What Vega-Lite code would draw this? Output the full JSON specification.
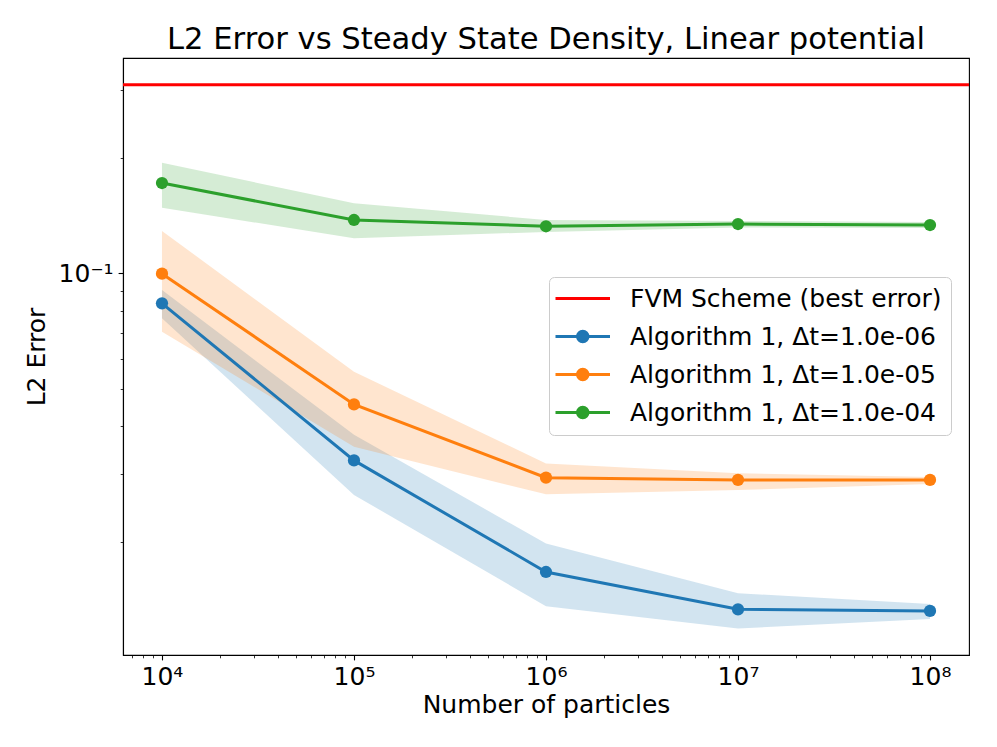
{
  "$schema": "https://vega.github.io/schema/vega-lite/v6.json",
  "width": 846,
  "height": 597,
  "autosize": {"type": "none"},
  "padding": {"left": 123, "top": 58, "right": 28, "bottom": 92},
  "background": "white",
  "config": {
    "font": "DejaVu Sans",
    "view": {"stroke": "black", "strokeWidth": 1.1},
    "axis": {
      "grid": false,
      "domainColor": "black",
      "domainWidth": 1.1,
      "tickColor": "black",
      "labelColor": "black",
      "titleColor": "black",
      "labelFont": "DejaVu Sans",
      "titleFont": "DejaVu Sans",
      "labelFontSize": 25,
      "titleFontSize": 25,
      "titleFontWeight": "normal",
      "labelOverlap": false,
      "labelFlush": false
    }
  },
  "title": {
    "text": "L2 Error vs Steady State Density, Linear potential",
    "font": "DejaVu Sans",
    "fontSize": 30.6,
    "fontWeight": "normal",
    "color": "black",
    "anchor": "middle",
    "frame": "group",
    "offset": 2
  },
  "datasets": {
    "alg": [
      {"series": "Algorithm 1, Δt=1.0e-06", "n": 10000, "err": 0.0836, "lo": 0.0764, "hi": 0.0906},
      {"series": "Algorithm 1, Δt=1.0e-06", "n": 100000, "err": 0.0326, "lo": 0.0265, "hi": 0.038},
      {"series": "Algorithm 1, Δt=1.0e-06", "n": 1000000, "err": 0.0167, "lo": 0.0136, "hi": 0.0198},
      {"series": "Algorithm 1, Δt=1.0e-06", "n": 10000000, "err": 0.01335, "lo": 0.0119, "hi": 0.0147},
      {"series": "Algorithm 1, Δt=1.0e-06", "n": 100000000, "err": 0.01322, "lo": 0.0126, "hi": 0.01378},
      {"series": "Algorithm 1, Δt=1.0e-05", "n": 10000, "err": 0.0999, "lo": 0.0705, "hi": 0.129},
      {"series": "Algorithm 1, Δt=1.0e-05", "n": 100000, "err": 0.0456, "lo": 0.0354, "hi": 0.0555},
      {"series": "Algorithm 1, Δt=1.0e-05", "n": 1000000, "err": 0.0294, "lo": 0.0266, "hi": 0.032},
      {"series": "Algorithm 1, Δt=1.0e-05", "n": 10000000, "err": 0.029, "lo": 0.0273, "hi": 0.0302},
      {"series": "Algorithm 1, Δt=1.0e-05", "n": 100000000, "err": 0.029, "lo": 0.0283, "hi": 0.0295},
      {"series": "Algorithm 1, Δt=1.0e-04", "n": 10000, "err": 0.172, "lo": 0.1484, "hi": 0.1943},
      {"series": "Algorithm 1, Δt=1.0e-04", "n": 100000, "err": 0.1378, "lo": 0.1235, "hi": 0.1523},
      {"series": "Algorithm 1, Δt=1.0e-04", "n": 1000000, "err": 0.1327, "lo": 0.1283, "hi": 0.1378},
      {"series": "Algorithm 1, Δt=1.0e-04", "n": 10000000, "err": 0.1345, "lo": 0.1318, "hi": 0.137},
      {"series": "Algorithm 1, Δt=1.0e-04", "n": 100000000, "err": 0.1337, "lo": 0.1314, "hi": 0.1362}
    ],
    "fvm": [
      {"series": "FVM Scheme (best error)", "err": 0.31}
    ]
  },
  "layer": [
    {
      "data": {"name": "alg"},
      "mark": {"type": "area", "opacity": 0.2},
      "encoding": {
        "x": {
          "field": "n", "type": "quantitative", "title": "Number of particles",
          "scale": {"type": "log", "domain": [6266, 159600000], "nice": false},
          "axis": {
            "values": [7000, 8000, 9000, 10000, 20000, 30000, 40000, 50000, 60000, 70000, 80000, 90000, 100000, 200000, 300000, 400000, 500000, 600000, 700000, 800000, 900000, 1000000, 2000000, 3000000, 4000000, 5000000, 6000000, 7000000, 8000000, 9000000, 10000000, 20000000, 30000000, 40000000, 50000000, 60000000, 70000000, 80000000, 90000000, 100000000],
            "labelExpr": "datum.value == 10000 ? '10⁴' : datum.value == 100000 ? '10⁵' : datum.value == 1000000 ? '10⁶' : datum.value == 10000000 ? '10⁷' : datum.value == 100000000 ? '10⁸' : ''",
            "tickSize": {"condition": {"test": "indexof([10000,100000,1000000,10000000,100000000], datum.value) >= 0", "value": 4.9}, "value": 2.8},
            "tickWidth": {"condition": {"test": "indexof([10000,100000,1000000,10000000,100000000], datum.value) >= 0", "value": 1.1}, "value": 0.8},
            "labelPadding": 5,
            "titlePadding": 3
          }
        },
        "y": {
          "field": "lo", "type": "quantitative", "title": "L2 Error",
          "scale": {"type": "log", "domain": [0.01015, 0.364], "nice": false},
          "axis": {
            "values": [0.02, 0.03, 0.04, 0.05, 0.06, 0.07, 0.08, 0.09, 0.1, 0.2, 0.3],
            "labelExpr": "abs(datum.value - 0.1) < 1e-9 ? '10⁻¹' : ''",
            "tickSize": {"condition": {"test": "abs(datum.value - 0.1) < 1e-9", "value": 4.9}, "value": 2.8},
            "tickWidth": {"condition": {"test": "abs(datum.value - 0.1) < 1e-9", "value": 1.1}, "value": 0.8},
            "labelPadding": 5,
            "titlePadding": 9
          }
        },
        "y2": {"field": "hi"},
        "color": {
          "field": "series", "type": "nominal",
          "scale": {"domain": ["Algorithm 1, Δt=1.0e-06", "Algorithm 1, Δt=1.0e-05", "Algorithm 1, Δt=1.0e-04"], "range": ["#1f77b4", "#ff7f0e", "#2ca02c"]},
          "legend": null
        }
      }
    },
    {
      "data": {"name": "fvm"},
      "mark": {"type": "rule", "strokeWidth": 3},
      "encoding": {
        "y": {"field": "err", "type": "quantitative", "title": "L2 Error"},
        "stroke": {
          "field": "series", "type": "nominal",
          "scale": {"domain": ["FVM Scheme (best error)", "Algorithm 1, Δt=1.0e-06", "Algorithm 1, Δt=1.0e-05", "Algorithm 1, Δt=1.0e-04"], "range": ["#ff0000", "#1f77b4", "#ff7f0e", "#2ca02c"]},
          "legend": {
            "title": null,
            "orient": "none",
            "legendX": 426,
            "legendY": 219,
            "labelFont": "DejaVu Sans",
            "labelFontSize": 25,
            "labelColor": "black",
            "labelLimit": 600,
            "symbolSize": 100,
            "symbolStrokeWidth": 3,
            "labelOffset": 47,
            "rowPadding": 12,
            "padding": 9,
            "strokeColor": "#cccccc",
            "fillColor": "rgba(255,255,255,0.8)",
            "cornerRadius": 5,
            "encode": {
              "symbols": {
                "update": {
                  "shape": {"signal": "datum.value == 'FVM Scheme (best error)' ? 'M-3,0H7.9' : 'M-3,0H7.9M3.5,0A1.05,1.05 0 1,1 1.4,0A1.05,1.05 0 1,1 3.5,0Z'"},
                  "fill": {"scale": "stroke", "field": "value"},
                  "strokeWidth": {"value": 3}
                }
              }
            }
          }
        }
      }
    },
    {
      "data": {"name": "alg"},
      "mark": {"type": "line", "strokeWidth": 3},
      "encoding": {
        "x": {"field": "n", "type": "quantitative", "title": "Number of particles"},
        "y": {"field": "err", "type": "quantitative", "title": "L2 Error"},
        "stroke": {"field": "series", "type": "nominal"}
      }
    },
    {
      "data": {"name": "alg"},
      "mark": {"type": "point", "filled": true, "size": 150, "opacity": 1},
      "encoding": {
        "x": {"field": "n", "type": "quantitative", "title": "Number of particles"},
        "y": {"field": "err", "type": "quantitative", "title": "L2 Error"},
        "color": {"field": "series", "type": "nominal", "legend": null}
      }
    }
  ]
}
